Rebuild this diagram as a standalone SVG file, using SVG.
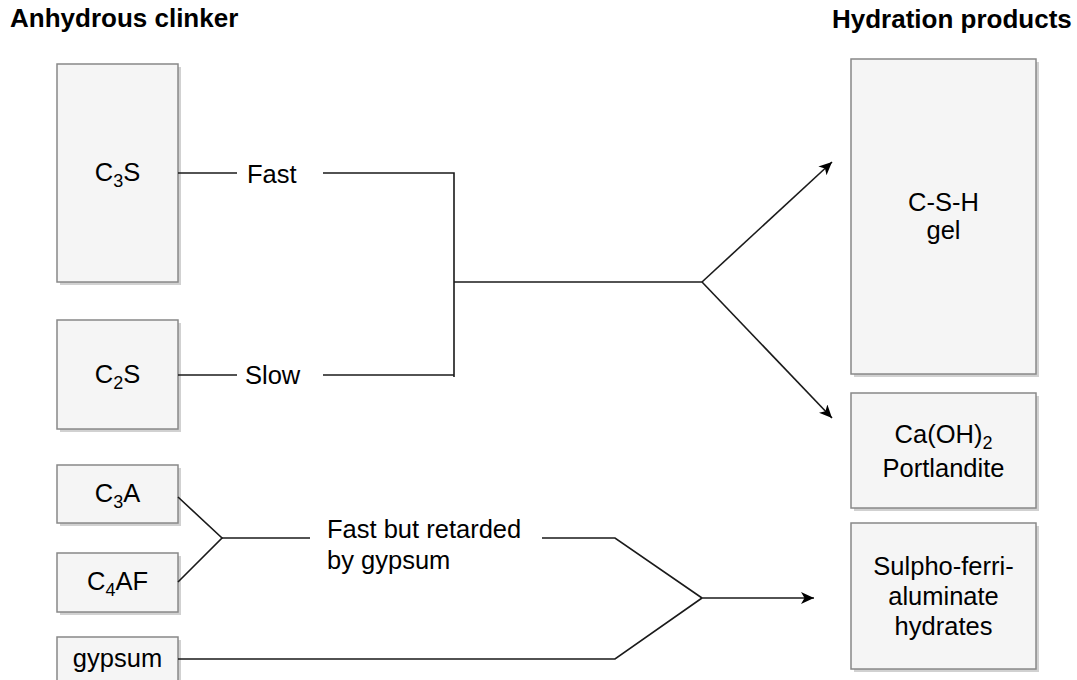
<svg xmlns="http://www.w3.org/2000/svg" width="1077" height="680" viewBox="0 0 1077 680">
  <style>
    .box { fill: #f5f5f5; stroke: #888888; stroke-width: 1.5; }
    .shadow { fill: #b3b3b3; opacity: 0.6; }
    .lbl { font-family: "Liberation Sans", Arial, sans-serif; font-size: 25.5px; fill: #000000; }
    .mid { text-anchor: middle; }
    .title { font-family: "Liberation Sans", Arial, sans-serif; font-size: 26px; font-weight: bold; fill: #000000; }
    .wire { fill: none; stroke: #1a1a1a; stroke-width: 1.6; }
  </style>
  <defs>
    <marker id="arrow" markerWidth="14" markerHeight="12" refX="13" refY="6" orient="auto" markerUnits="userSpaceOnUse">
      <path d="M0,0 L13,6 L0,12 L3.5,6 Z" fill="#000000"/>
    </marker>
  </defs>

  <rect width="1077" height="680" fill="#ffffff"/>

  <text class="title" x="10" y="27">Anhydrous clinker</text>
  <text class="title" x="832" y="28">Hydration products</text>

  <!-- clinker phases -->
  <g id="c3s">
    <rect class="shadow" x="60" y="67" width="121" height="218"/>
    <rect class="box" x="57" y="64" width="121" height="218"/>
    <text class="lbl mid" x="117.5" y="181">C<tspan font-size="18" dy="6">3</tspan><tspan dy="-6">S</tspan></text>
  </g>
  <g id="c2s">
    <rect class="shadow" x="60" y="323" width="121" height="109"/>
    <rect class="box" x="57" y="320" width="121" height="109"/>
    <text class="lbl mid" x="117.5" y="383">C<tspan font-size="18" dy="6">2</tspan><tspan dy="-6">S</tspan></text>
  </g>
  <g id="c3a">
    <rect class="shadow" x="60" y="468" width="121" height="58"/>
    <rect class="box" x="57" y="465" width="121" height="58"/>
    <text class="lbl mid" x="117.5" y="502">C<tspan font-size="18" dy="6">3</tspan><tspan dy="-6">A</tspan></text>
  </g>
  <g id="c4af">
    <rect class="shadow" x="60" y="556" width="121" height="59"/>
    <rect class="box" x="57" y="553" width="121" height="59"/>
    <text class="lbl mid" x="117.5" y="590">C<tspan font-size="18" dy="6">4</tspan><tspan dy="-6">AF</tspan></text>
  </g>
  <g id="gypsum">
    <rect class="shadow" x="60" y="640" width="121" height="58"/>
    <rect class="box" x="57" y="637" width="121" height="58"/>
    <text class="lbl mid" x="117.5" y="667">gypsum</text>
  </g>

  <!-- hydration products -->
  <g id="csh">
    <rect class="shadow" x="854" y="62" width="185" height="315"/>
    <rect class="box" x="851" y="59" width="185" height="315"/>
    <text class="lbl mid" x="943.5" y="211">C-S-H</text>
    <text class="lbl mid" x="943.5" y="239">gel</text>
  </g>
  <g id="portlandite">
    <rect class="shadow" x="854" y="396" width="185" height="115"/>
    <rect class="box" x="851" y="393" width="185" height="115"/>
    <text class="lbl mid" x="943.5" y="443">Ca(OH)<tspan font-size="18" dy="6">2</tspan></text>
    <text class="lbl mid" x="943.5" y="477">Portlandite</text>
  </g>
  <g id="sfa">
    <rect class="shadow" x="854" y="526" width="185" height="146"/>
    <rect class="box" x="851" y="523" width="185" height="146"/>
    <text class="lbl mid" x="943.5" y="575">Sulpho-ferri-</text>
    <text class="lbl mid" x="943.5" y="605">aluminate</text>
    <text class="lbl mid" x="943.5" y="635">hydrates</text>
  </g>

  <!-- reaction paths -->
  <g id="connectors">
    <path class="wire" d="M178,173 H237"/>
    <path class="wire" d="M323,173 H454 V377"/>
    <path class="wire" d="M178,375 H237"/>
    <path class="wire" d="M323,375 H454"/>
    <path class="wire" d="M454,282 H702"/>
    <path class="wire" d="M702,282 L832,162" marker-end="url(#arrow)"/>
    <path class="wire" d="M702,282 L832,418" marker-end="url(#arrow)"/>

    <path class="wire" d="M178,497 L222,538 L178,582"/>
    <path class="wire" d="M222,538 H310"/>
    <path class="wire" d="M542,538 H615 L702,598"/>
    <path class="wire" d="M178,659 H615 L702,598"/>
    <path class="wire" d="M702,598 H814" marker-end="url(#arrow)"/>

    <text class="lbl" x="247" y="183">Fast</text>
    <text class="lbl" x="245" y="384">Slow</text>
    <text class="lbl" x="327" y="538">Fast but retarded</text>
    <text class="lbl" x="327" y="569">by gypsum</text>
  </g>
</svg>
